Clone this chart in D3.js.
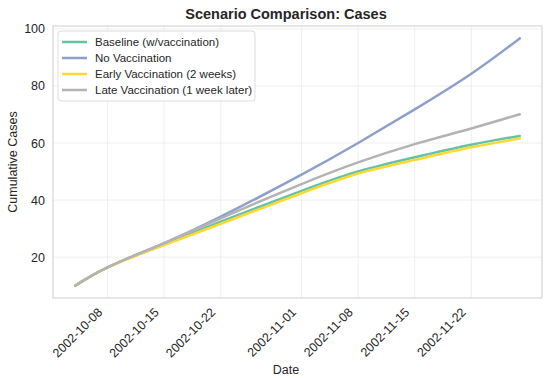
<!DOCTYPE html>
<html>
<head>
<meta charset="utf-8">
<script src="https://cdn.jsdelivr.net/npm/d3@7"></script>
<style>
  body { margin: 0; background: #fff; }
  svg { font-family: "Liberation Sans", Arial, sans-serif; }
</style>
</head>
<body>
<svg id="chart" width="547" height="378"></svg>
<script>
// data
let dates = ["2002-10-04", "2002-10-06", "2002-10-08", "2002-10-11", "2002-10-15", "2002-10-22",
             "2002-11-01", "2002-11-08", "2002-11-15", "2002-11-22", "2002-11-28"];
let baseline = [10.0, 13.4, 16.4, 20.1, 24.5, 32.4, 43.2, 50.0, 55.0, 59.4, 62.5];
let noVacc   = [10.0, 13.4, 16.4, 20.2, 24.9, 34.2, 48.9, 60.0, 71.8, 84.3, 96.7];
let early    = [10.0, 13.4, 16.3, 19.9, 24.2, 31.7, 42.4, 49.3, 54.1, 58.5, 61.6];
let late     = [10.0, 13.4, 16.4, 20.2, 24.8, 33.6, 45.6, 53.2, 59.6, 65.1, 70.1];
let seriesNames = ["Baseline (w/vaccination)", "No Vaccination", "Early Vaccination (2 weeks)", "Late Vaccination (1 week later)"];
let seriesColors = ["#66c2a5", "#8da0cb", "#ffd92f", "#b3b3b3"];
let xTickLabels = ["2002-10-08", "2002-10-15", "2002-10-22", "2002-11-01", "2002-11-08", "2002-11-15", "2002-11-22"];
let yTicks = [20, 40, 60, 80, 100];

let svg = d3.select("#chart");
let margin = {left: 53, right: 5, top: 26, bottom: 80};
let width = +svg.attr("width"), height = +svg.attr("height");
let parse = d3.timeParse("%Y-%m-%d");
let xs = dates.map(parse);
let allSeries = [baseline, noVacc, early, late];

// matplotlib-style 5% padding
let xExt = d3.extent(xs), xPad = (xExt[1] - xExt[0]) * 0.05;
let allVals = allSeries.flat();
let yExt = d3.extent(allVals), yPad = (yExt[1] - yExt[0]) * 0.05;

let x = d3.scaleTime()
  .domain([new Date(+xExt[0] - xPad), new Date(+xExt[1] + xPad)])
  .range([margin.left, width - margin.right]);
let y = d3.scaleLinear()
  .domain([yExt[0] - yPad, yExt[1] + yPad])
  .range([height - margin.bottom, margin.top]);

let textColor = "#262626";

// grid
let xTickDates = xTickLabels.map(parse);
svg.append("g").selectAll("line").data(xTickDates).join("line")
  .attr("x1", d => x(d)).attr("x2", d => x(d))
  .attr("y1", margin.top).attr("y2", height - margin.bottom)
  .attr("stroke", "#ebebeb").attr("stroke-width", 0.8);
svg.append("g").selectAll("line").data(yTicks).join("line")
  .attr("x1", margin.left).attr("x2", width - margin.right)
  .attr("y1", d => y(d)).attr("y2", d => y(d))
  .attr("stroke", "#ebebeb").attr("stroke-width", 0.8);

// axes
let xAxis = svg.append("g")
  .attr("transform", "translate(0," + (height - margin.bottom) + ")")
  .call(d3.axisBottom(x).tickValues(xTickDates).tickFormat(d3.timeFormat("%Y-%m-%d")).tickSize(0));
xAxis.select(".domain").remove();
xAxis.selectAll("text")
  .attr("fill", textColor).attr("font-size", 12.5)
  .attr("text-anchor", "end")
  .attr("dy", null).attr("y", 0)
  .attr("transform", "translate(-5,15) rotate(-45)");

let yAxis = svg.append("g")
  .attr("transform", "translate(" + margin.left + ",0)")
  .call(d3.axisLeft(y).tickValues(yTicks).tickSize(0).tickPadding(8));
yAxis.select(".domain").remove();
yAxis.selectAll("text").attr("fill", textColor).attr("font-size", 12.5);

// frame
svg.append("rect")
  .attr("x", margin.left).attr("y", margin.top)
  .attr("width", width - margin.left - margin.right)
  .attr("height", height - margin.top - margin.bottom)
  .attr("fill", "none").attr("stroke", "#d6d6d6").attr("stroke-width", 1.2);

// lines
let line = d3.line()
  .x((d, i) => x(xs[i]))
  .y(d => y(d))
  .curve(d3.curveNatural);

svg.append("g").selectAll("path").data(allSeries).join("path")
  .attr("d", line)
  .attr("fill", "none")
  .attr("stroke", (d, i) => seriesColors[i])
  .attr("stroke-width", 2.5)
  .attr("stroke-linecap", "round");

// title and labels
svg.append("text")
  .attr("x", 286).attr("y", 19)
  .attr("text-anchor", "middle")
  .attr("font-size", 14.5).attr("font-weight", "bold")
  .attr("fill", textColor)
  .text("Scenario Comparison: Cases");

svg.append("text")
  .attr("x", 286).attr("y", 374)
  .attr("text-anchor", "middle")
  .attr("font-size", 12.5).attr("fill", textColor)
  .text("Date");

svg.append("text")
  .attr("transform", "translate(17," + ((margin.top + height - margin.bottom) / 2) + ") rotate(-90)")
  .attr("text-anchor", "middle")
  .attr("font-size", 12.5).attr("fill", textColor)
  .text("Cumulative Cases");

// legend
let legend = svg.append("g").attr("transform", "translate(58,31)");
legend.append("rect")
  .attr("width", 197).attr("height", 70).attr("rx", 3)
  .attr("fill", "white").attr("fill-opacity", 0.85)
  .attr("stroke", "#dddddd");
let items = legend.selectAll(".item").data(seriesNames).join("g")
  .attr("class", "item")
  .attr("transform", (d, i) => "translate(0," + (11 + i * 16) + ")");
items.append("line")
  .attr("x1", 4).attr("x2", 29)
  .attr("stroke", (d, i) => seriesColors[i]).attr("stroke-width", 2.5);
items.append("text")
  .attr("x", 37).attr("dy", "0.35em")
  .attr("font-size", 11.5).attr("fill", textColor)
  .text(d => d);
</script>
</body>
</html>
